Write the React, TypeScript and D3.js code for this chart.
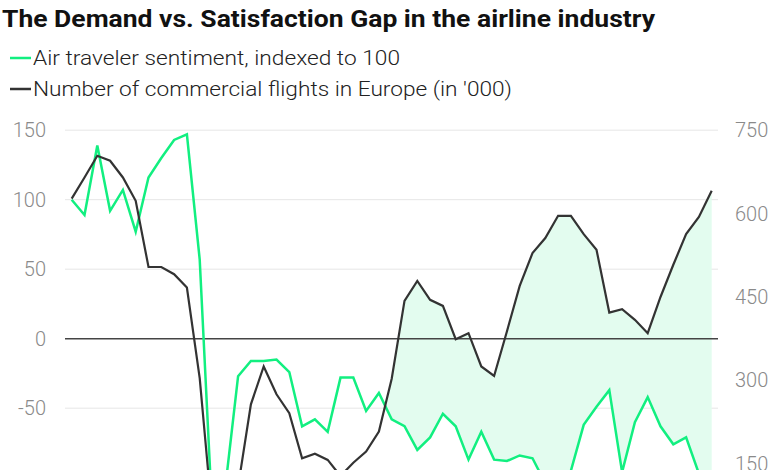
import React from "react";
import * as d3 from "d3";

const title = "The Demand vs. Satisfaction Gap in the airline industry";
const seriesNames = ["Air traveler sentiment, indexed to 100", "Number of commercial flights in Europe (in '000)"];

const sentiment = [
  100, 89, 139, 92, 107, 77, 116, 130, 143, 147,
  57, -130, -107, -27, -16, -16, -15, -24, -63, -58,
  -67, -28, -28, -52, -39, -58, -63, -80, -71, -54,
  -63, -87, -67, -87, -88, -84, -86, -104, -108, -95,
  -62, -49, -37, -96, -60, -42, -63, -76, -71, -97,
  -105,
];

const flights = [
  627, 665, 704, 695, 665, 623, 504, 504, 491, 467,
  304, 50, 60, 109, 257, 325, 275, 241, 160, 168,
  157, 128, 152, 172, 208, 303, 443, 479, 445, 434,
  374, 385, 325, 308, 388, 470, 529, 556, 596, 596,
  563, 535, 422, 428, 409, 385, 450, 508, 563, 594,
  641,
];

const leftTicks = [150, 100, 50, 0, -50, -100];
const rightTicks = [750, 600, 450, 300, 150];

const W = 780;
const H = 470;
const GREEN = "#12ef80";
const DARK = "#333333";
const FILL = "#e3fcef";
const FONT = "Roboto, 'Noto Sans', sans-serif";

export default function App() {
  const x = d3.scaleLinear().domain([0, sentiment.length - 1]).range([71.7, 711.7]);
  const yL = d3.scaleLinear().domain([-150, 150]).range([547.2, 130.2]);
  const yR = d3.scaleLinear().domain([0, 750]).range([547.2, 130.2]);

  const idx = d3.range(sentiment.length);

  const gLine = d3
    .line<number>()
    .x((i) => x(i))
    .y((i) => yL(sentiment[i]));
  const bLine = d3
    .line<number>()
    .x((i) => x(i))
    .y((i) => yR(flights[i]));

  // find last crossing where flights (black) moves above sentiment (green)
  let start = -1;
  for (let i = 1; i < idx.length; i++) {
    const dPrev = yR(flights[i - 1]) - yL(sentiment[i - 1]);
    const dCur = yR(flights[i]) - yL(sentiment[i]);
    if (dPrev > 0 && dCur <= 0 && i > 20) {
      start = i;
      break;
    }
  }
  type P = { x: number; y0: number; y1: number };
  const pts: P[] = [];
  if (start > 0) {
    const a = start - 1;
    const gy0 = yL(sentiment[a]);
    const gy1 = yL(sentiment[start]);
    const by0 = yR(flights[a]);
    const by1 = yR(flights[start]);
    const t = (by0 - gy0) / (by0 - gy0 - (by1 - gy1));
    const cy = gy0 + t * (gy1 - gy0);
    pts.push({ x: x(a + t), y0: cy, y1: cy });
    for (let i = start; i < idx.length; i++) {
      pts.push({ x: x(i), y0: yL(sentiment[i]), y1: yR(flights[i]) });
    }
  }
  const area = d3
    .area<P>()
    .x((d) => d.x)
    .y0((d) => d.y0)
    .y1((d) => d.y1);

  return (
    <svg
      width={W}
      height={H}
      style={{ position: "absolute", left: 0, top: 0, background: "#fff" }}
    >
      <text
        x={2}
        y={27}
        fontFamily={FONT}
        fontWeight={700}
        fontSize={23}
        fill="#111"
        textLength={653}
        lengthAdjust="spacingAndGlyphs"
      >
        {title}
      </text>
      <line x1={10} x2={31} y1={58} y2={58} stroke={GREEN} strokeWidth={2.5} />
      <text
        x={33}
        y={65}
        fontFamily={FONT}
        fontWeight={300}
        fontSize={20}
        fill="#222"
        textLength={367}
        lengthAdjust="spacingAndGlyphs"
      >
        {seriesNames[0]}
      </text>
      <line x1={10} x2={31} y1={89} y2={89} stroke={DARK} strokeWidth={2.5} />
      <text
        x={33}
        y={96}
        fontFamily={FONT}
        fontWeight={300}
        fontSize={20}
        fill="#222"
        textLength={479}
        lengthAdjust="spacingAndGlyphs"
      >
        {seriesNames[1]}
      </text>

      {leftTicks.map((t) => (
        <g key={"l" + t}>
          {t !== 0 && (
            <line x1={65} x2={718} y1={yL(t)} y2={yL(t)} stroke="#e6e6e6" strokeWidth={1} />
          )}
          <text
            x={46}
            y={yL(t)}
            dy="0.35em"
            textAnchor="end"
            fontFamily={FONT}
            fontWeight={300}
            fontSize={20}
            fill="#8a8a8a"
          >
            {t}
          </text>
        </g>
      ))}
      {rightTicks.map((t) => (
        <text
          key={"r" + t}
          x={735}
          y={yR(t)}
          dy="0.35em"
          textAnchor="start"
          fontFamily={FONT}
          fontWeight={300}
          fontSize={20}
          fill="#8a8a8a"
        >
          {t}
        </text>
      ))}

      {pts.length > 0 && <path d={area(pts) || ""} fill={FILL} stroke="none" />}

      <line x1={65} x2={718} y1={yL(0)} y2={yL(0)} stroke="#444" strokeWidth={1.5} />

      <path d={gLine(idx) || ""} fill="none" stroke={GREEN} strokeWidth={2.5} strokeLinejoin="miter" />
      <path d={bLine(idx) || ""} fill="none" stroke={DARK} strokeWidth={2.2} strokeLinejoin="miter" />
    </svg>
  );
}
